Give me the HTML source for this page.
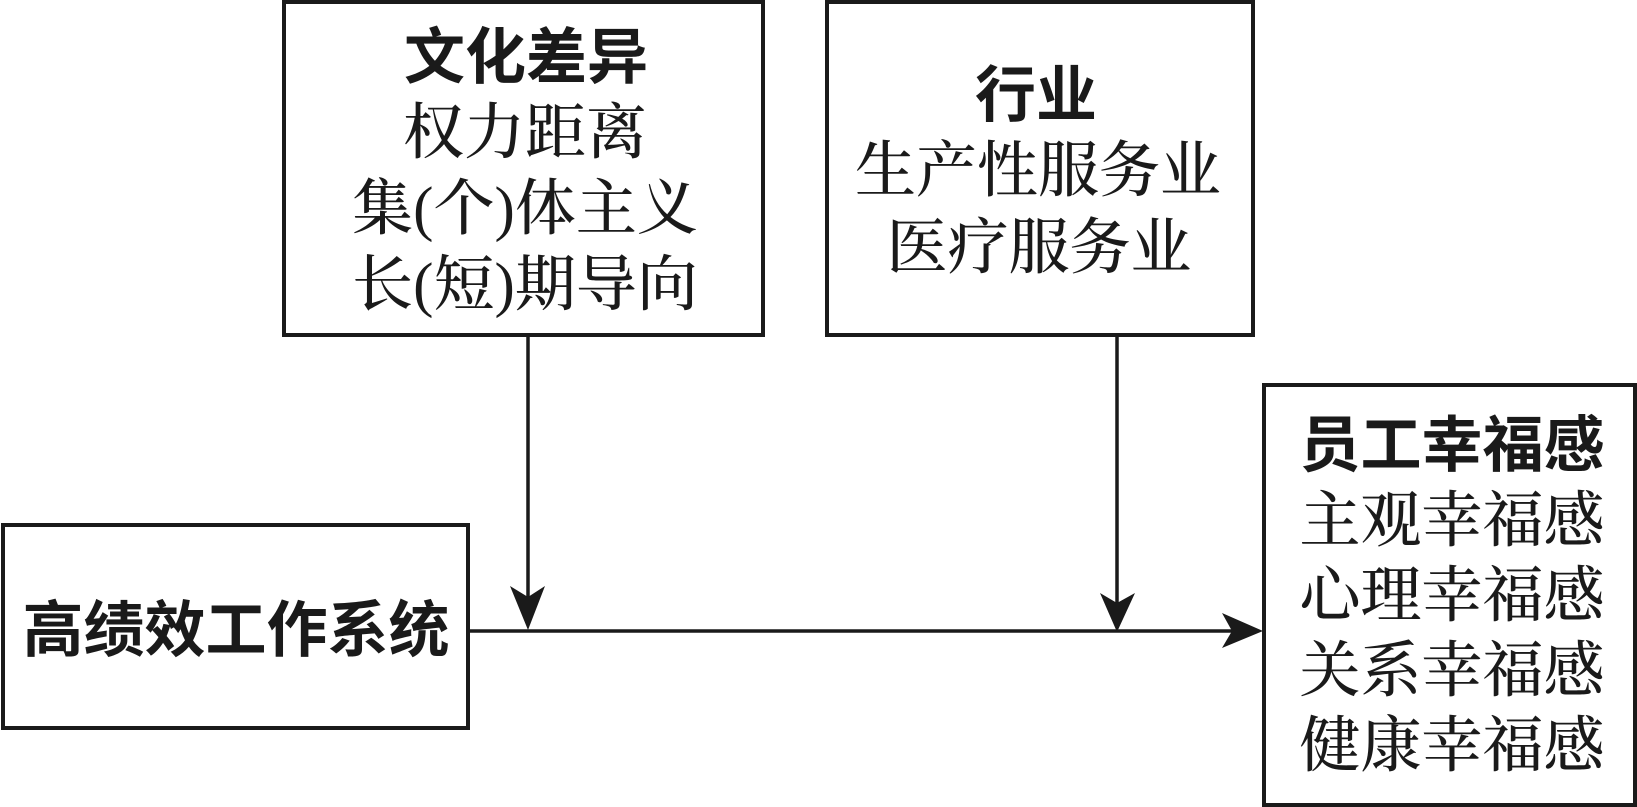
<!DOCTYPE html>
<html>
<head>
<meta charset="utf-8">
<style>
  html, body { margin: 0; padding: 0; background: #fff; }
  body { width: 1637px; height: 807px; overflow: hidden; }
  svg { display: block; }
  .t { font-family: "Noto Sans CJK SC", "WenQuanYi Zen Hei", sans-serif; font-weight: 700; font-size: 61px; fill: #1a1a1a; }
  .b { font-family: "Noto Serif CJK SC", "Noto Serif CJK JP", serif; font-weight: 500; font-size: 61px; fill: #1a1a1a; }
  .p { font-family: "Liberation Serif", serif; font-weight: 400; }
</style>
</head>
<body>
<svg width="1637" height="807" viewBox="0 0 1637 807" xmlns="http://www.w3.org/2000/svg">
  <g fill="none" stroke="#1a1a1a" stroke-width="4" stroke-linejoin="miter">
    <rect x="284" y="2" width="479" height="333"/>
    <rect x="827" y="2" width="426" height="333"/>
    <rect x="3" y="525" width="465" height="203"/>
    <rect x="1264" y="385" width="371" height="420"/>
  </g>
  <g stroke="#1a1a1a" stroke-width="3.5" fill="none">
    <line x1="528" y1="337" x2="528" y2="600"/>
    <line x1="1117" y1="337" x2="1117" y2="606"/>
    <line x1="466" y1="631" x2="1236" y2="631"/>
  </g>
  <g fill="#1a1a1a" stroke="none">
    <polygon points="528,630 510,586 528,597 545,586"/>
    <polygon points="1117,632 1100,593 1117,603 1135,593"/>
    <polygon points="1263,631 1222,613 1232,631 1222,648"/>
  </g>
  <g text-anchor="middle">
    <text class="t" x="526" y="78">文化差异</text>
    <text class="b" x="525" y="153">权力距离</text>
    <text class="b" x="525" y="229">集<tspan class="p">(</tspan>个<tspan class="p">)</tspan>体主义</text>
    <text class="b" x="525" y="305">长<tspan class="p">(</tspan>短<tspan class="p">)</tspan>期导向</text>

    <text class="t" x="1036" y="116">行业</text>
    <text class="b" x="1038" y="191">生产性服务业</text>
    <text class="b" x="1039" y="268">医疗服务业</text>

    <text class="t" x="236" y="651">高绩效工作系统</text>

    <text class="t" x="1452" y="466">员工幸福感</text>
    <text class="b" x="1452" y="541">主观幸福感</text>
    <text class="b" x="1452" y="616">心理幸福感</text>
    <text class="b" x="1452" y="691">关系幸福感</text>
    <text class="b" x="1452" y="766">健康幸福感</text>
  </g>
</svg>
</body>
</html>
